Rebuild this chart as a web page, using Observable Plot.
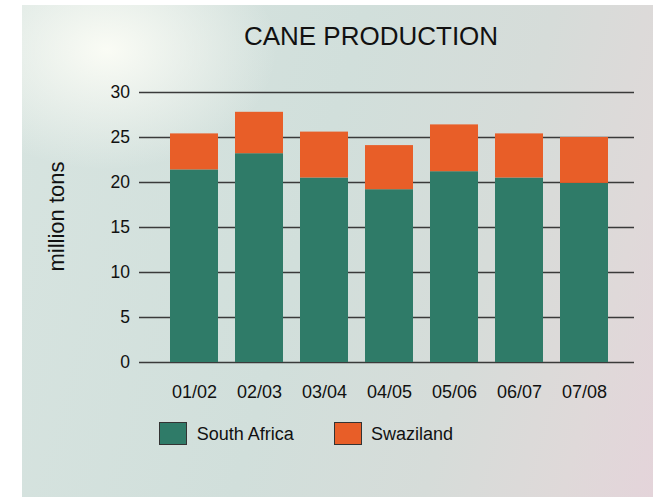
<!DOCTYPE html>
<html>
<head>
<meta charset="utf-8">
<script src="https://cdn.jsdelivr.net/npm/d3@7"></script>
<script src="https://cdn.jsdelivr.net/npm/@observablehq/plot@0.6"></script>
<style>
  html, body { margin: 0; padding: 0; background: #ffffff; }
  #wrap { position: relative; width: 653px; height: 497px; overflow: hidden;
          font-family: "Liberation Sans", Arial, Helvetica, sans-serif; color: #111; }
  #bg { position: absolute; left: 22px; top: 5px; width: 631px; height: 492px;
        background:
          radial-gradient(ellipse 170px 120px at 85px 45px, rgba(252,253,246,0.95) 0%, rgba(250,251,245,0.55) 45%, rgba(250,251,245,0) 100%),
          linear-gradient(105deg, #d7e4e0 0%, #d1dfdb 45%, #d6dcd9 70%, #dfd9d9 88%, #e4d4da 100%);
  }
  #title { position: absolute; left: 0; width: 742px; top: 23px; text-align: center;
           font-size: 26px; line-height: 26px; color: #111; }
  #chart { position: absolute; left: 0; top: 0; }
  .lg { position: absolute; font-size: 18px; line-height: 18px; color: #111; white-space: nowrap; }
  .sw { position: absolute; width: 26px; height: 21px; border: 1.3px solid #333; }
</style>
</head>
<body>
<div id="wrap">
  <div id="bg"></div>
  <div id="title">CANE PRODUCTION</div>
  <div id="chart"></div>
  <div id="legend"></div>
</div>
<script>
const years = ["01/02", "02/03", "03/04", "04/05", "05/06", "06/07", "07/08"];
const southAfrica = [21.4, 23.2, 20.5, 19.2, 21.2, 20.5, 19.9];
const swaziland = [4.0, 4.6, 5.1, 4.9, 5.2, 4.9, 5.1];
const seriesNames = ["South Africa", "Swaziland"];
const seriesColors = ["#2f7b68", "#e85e28"];
const yTicks = [0, 5, 10, 15, 20, 25, 30];
const yLabel = "million tons";

const rows = [];
years.forEach((yr, i) => rows.push({year: yr, series: seriesNames[0], value: southAfrica[i]}));
years.forEach((yr, i) => rows.push({year: yr, series: seriesNames[1], value: swaziland[i]}));

const font = '"Liberation Sans", Arial, Helvetica, sans-serif';

const plot = Plot.plot({
  width: 653,
  height: 497,
  marginTop: 92,
  marginBottom: 135,
  marginLeft: 139,
  marginRight: 19,
  style: {background: "transparent", fontFamily: font, color: "#111", overflow: "visible"},
  x: {domain: years, paddingInner: 0.266, paddingOuter: 0.417, align: 0.54, label: null},
  y: {domain: [0, 30], label: null},
  color: {domain: seriesNames, range: seriesColors},
  marks: [
    Plot.ruleY(yTicks, {stroke: "#3a3a3a", strokeWidth: 1.5}),
    Plot.barY(rows, {x: "year", y: "value", fill: "series"}),
    Plot.axisY({ticks: yTicks, tickSize: 0, tickPadding: 9.5, fontSize: 17.5, label: null, tickFormat: d => String(d)}),
    Plot.axisX({tickSize: 0, tickPadding: 23, fontSize: 18, label: null}),
    Plot.text([yLabel], {text: d => d, frameAnchor: "left", textAnchor: "middle", lineAnchor: "middle", rotate: -90, dx: -83, dy: -11, fontSize: 22, fill: "#111"})
  ]
});
document.getElementById("chart").appendChild(plot);

const legend = document.getElementById("legend");
const swLeft = [158.5, 333.5];
const txtLeft = [196.7, 371];
seriesNames.forEach((name, i) => {
  const sw = document.createElement("div");
  sw.className = "sw";
  sw.style.left = swLeft[i] + "px";
  sw.style.top = "421.5px";
  sw.style.background = seriesColors[i];
  legend.appendChild(sw);
  const t = document.createElement("div");
  t.className = "lg";
  t.style.left = txtLeft[i] + "px";
  t.style.top = "424.8px";
  t.textContent = name;
  legend.appendChild(t);
});
</script>
</body>
</html>
